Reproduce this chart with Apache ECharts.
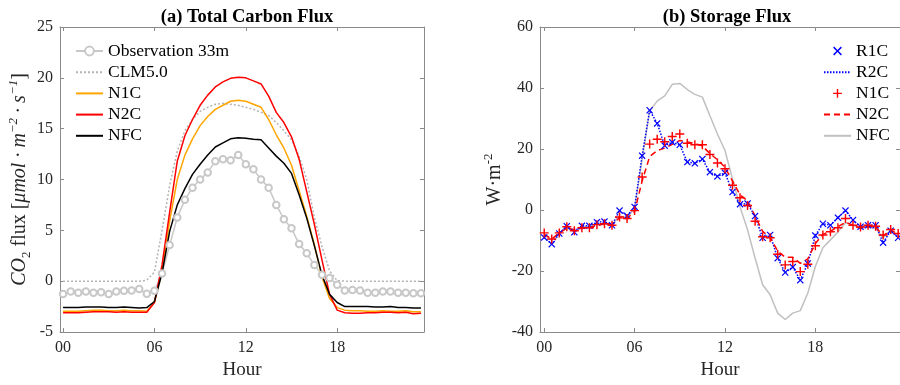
<!DOCTYPE html>
<html>
<head>
<meta charset="utf-8">
<script src="https://cdn.jsdelivr.net/npm/echarts@6/dist/echarts.min.js"></script>
<style>html,body{margin:0;padding:0;background:#fff}#c{width:900px;height:385px}</style>
</head>
<body>
<div id="c"></div>
<script>
// ---------- data ----------
var hours = [0,0.5,1,1.5,2,2.5,3,3.5,4,4.5,5,5.5,6,6.5,7,7.5,8,8.5,9,9.5,10,10.5,11,11.5,
             12,12.5,13,13.5,14,14.5,15,15.5,16,16.5,17,17.5,18,18.5,19,19.5,20,20.5,21,21.5,22,22.5,23,23.5];
var xTicks = [0, 6, 12, 18];

// (a) Total Carbon Flux
var obs33m = [-1.27,-1.01,-1.14,-1.01,-1.14,-1.08,-1.27,-1.01,-0.95,-0.91,-0.78,-1.24,
              -0.95,0.75,3.55,6.26,8.0,9.2,10.0,10.7,11.8,12.0,11.9,12.4,
              11.5,11.0,10.0,9.2,7.5,6.1,5.2,3.65,2.74,1.6,0.62,0.3,
              -0.36,-0.91,-0.88,-0.91,-1.14,-1.14,-1.01,-1.01,-1.14,-1.14,-1.2,-1.2];
var clm50 = [0,0,0,0,0,0,0,0,0,0,0,0.1,
             0.9,5.0,9.4,12.8,14.8,15.9,16.7,17.1,17.4,17.5,17.4,17.3,
             17.1,16.9,16.6,16.3,15.6,14.8,13.9,12.3,10.0,6.3,3.4,1.0,
             0.05,0,0,0,0,0,0,0,0,0,0,0];
var n1cA = [-2.95,-2.95,-2.95,-2.9,-2.85,-2.85,-2.9,-2.9,-2.85,-2.9,-2.9,-2.95,
            -2.1,1.0,5.9,10.0,12.4,14.0,15.3,16.2,16.9,17.3,17.7,17.8,
            17.7,17.4,17.1,15.9,14.4,13.1,11.4,8.9,6.4,3.6,0.4,-1.7,
            -2.6,-2.85,-2.9,-2.9,-2.95,-2.95,-2.9,-2.95,-2.95,-2.9,-3.0,-3.0];
var n2cA = [-3.1,-3.1,-3.1,-3.05,-3.0,-3.0,-3.0,-3.05,-3.0,-3.05,-3.05,-3.05,
            -2.1,1.6,6.8,11.8,14.3,15.9,17.3,18.3,19.1,19.6,19.95,20.05,
            20.0,19.7,19.4,18.2,16.6,15.6,14.2,12.0,8.8,5.6,2.1,-1.3,
            -2.85,-3.1,-3.15,-3.15,-3.1,-3.1,-3.05,-3.05,-3.1,-3.05,-3.2,-3.15];
var nfcA = [-2.6,-2.6,-2.6,-2.55,-2.55,-2.55,-2.6,-2.6,-2.55,-2.6,-2.65,-2.6,
            -2.0,0.8,4.9,7.5,9.1,10.5,11.5,12.4,13.2,13.6,14.0,14.1,
            14.05,13.95,13.9,13.1,12.3,11.6,10.6,8.5,6.2,3.5,0.6,-1.3,
            -2.1,-2.5,-2.5,-2.5,-2.5,-2.55,-2.55,-2.5,-2.6,-2.6,-2.65,-2.65];

// (b) Storage Flux
var r1cB = [-9.0,-11.2,-7.7,-5.3,-7.3,-5.2,-5.2,-4.0,-3.8,-5.0,-0.2,-1.9,
            1.0,17.8,32.7,28.4,21.1,22.2,21.4,15.7,15.3,16.7,12.4,11.0,
            12.2,5.9,1.9,2.1,-2.0,-9.1,-8.2,-15.8,-20.5,-18.7,-23.0,-17.5,
            -8.4,-4.5,-5.0,-2.5,-0.2,-3.3,-5.5,-5.0,-5.0,-10.7,-6.8,-9.1];
var r2cB = [-9.0,-11.2,-7.7,-5.3,-7.3,-5.2,-5.2,-4.0,-3.8,-5.0,-0.2,-1.9,
            1.0,17.8,32.7,28.4,21.1,22.2,21.4,15.7,15.3,16.7,12.4,11.0,
            12.2,5.9,1.9,2.1,-2.0,-9.1,-8.2,-15.8,-20.5,-18.7,-23.0,-17.5,
            -8.4,-4.5,-5.0,-2.5,-0.2,-3.3,-5.5,-5.0,-5.0,-10.7,-6.8,-9.1];
var n1cB = [-7.5,-9.5,-7.5,-5.5,-6.8,-5.8,-5.8,-4.8,-4.5,-5.0,-2.3,-2.8,
            -0.2,10.8,21.6,23.2,22.4,24.1,24.9,21.9,21.4,21.4,18.2,15.4,
            13.5,8.1,4.0,1.5,-3.7,-8.8,-9.1,-14.5,-18.0,-16.9,-20.2,-17.8,
            -11.7,-8.2,-7.1,-5.8,-2.8,-5.0,-5.6,-5.0,-5.3,-8.2,-6.4,-7.7];
var n2cB = [-8.0,-9.5,-7.5,-6.0,-6.5,-6.0,-5.8,-5.0,-4.6,-4.8,-2.5,-2.8,
            -0.5,9.5,17.5,19.5,20.3,21.5,22.8,22.3,21.8,21.0,18.5,16.5,
            14.0,9.5,5.0,3.0,-2.0,-7.0,-9.0,-13.5,-15.5,-15.5,-17.5,-16.0,
            -11.0,-8.0,-7.0,-5.5,-4.0,-5.0,-6.0,-5.5,-5.5,-8.5,-6.5,-8.0];
var nfcB = [-8.0,-10.0,-7.5,-6.0,-6.5,-5.5,-5.5,-4.5,-4.5,-4.8,-2.0,-2.5,
            0.5,16.5,32.5,35.7,37.4,41.2,41.5,39.5,37.9,37.0,30.9,24.9,
            19.5,10.2,1.0,-6.5,-15.8,-24.5,-27.8,-33.8,-35.9,-33.8,-33.0,-27.2,
            -18.5,-12.4,-9.8,-7.2,-4.2,-5.0,-6.1,-5.5,-6.0,-9.1,-6.6,-8.4];

// ---------- chart ----------
function pairs(v){ return hours.map(function(h,i){ return [h, v[i]]; }); }
var FF = 'Liberation Serif';
var AX = '#8a8a8a';
var TXT = '#262626';
var XSYM = 'path://M0,1.2L1.2,0L5,3.8L8.8,0L10,1.2L6.2,5L10,8.8L8.8,10L5,6.2L1.2,10L0,8.8L3.8,5Z';
var PSYM = 'path://M4.2,0H5.8V4.2H10V5.8H5.8V10H4.2V5.8H0V4.2H4.2Z';

function xAx(grid, min, max, bottom){
  return {
    gridIndex: grid, type: 'value', min: min, max: max,
    position: bottom ? 'bottom' : 'top',
    axisLine: {show: true, onZero: false, lineStyle: {color: AX, width: 1}},
    axisTick: {show: true, inside: true, length: 4, customValues: xTicks, lineStyle: {color: AX}},
    axisLabel: bottom ? {show: true, customValues: xTicks, margin: 8, fontFamily: FF, fontSize: 16, color: TXT,
                         formatter: function(v){ return (v < 10 ? '0' : '') + v; }} : {show: false},
    splitLine: {show: false},
    name: bottom ? 'Hour' : '', nameLocation: 'middle', nameGap: 29,
    nameTextStyle: {fontFamily: FF, fontSize: 19, color: TXT}
  };
}
function yAx(grid, min, max, iv, left, name, gap){
  return {
    gridIndex: grid, type: 'value', min: min, max: max, interval: iv,
    position: left ? 'left' : 'right',
    axisLine: {show: true, onZero: false, lineStyle: {color: AX, width: 1}},
    axisTick: {show: true, inside: true, length: 4, lineStyle: {color: AX}},
    axisLabel: left ? {show: true, margin: 7, fontFamily: FF, fontSize: 16, color: TXT} : {show: false},
    splitLine: {show: false},
    name: left ? name : '', nameLocation: 'middle', nameGap: gap, nameRotate: 90,
    nameTextStyle: {fontFamily: FF, fontSize: 20, color: TXT, lineHeight: 26,
      rich: {
        it: {fontFamily: FF, fontSize: 20, fontStyle: 'italic', color: TXT},
        rm: {fontFamily: FF, fontSize: 20, color: TXT},
        sup: {fontFamily: FF, fontSize: 13, fontStyle: 'italic', color: TXT, verticalAlign: 'top', lineHeight: 14},
        supr: {fontFamily: FF, fontSize: 13, color: TXT, verticalAlign: 'top', lineHeight: 14},
        sub: {fontFamily: FF, fontSize: 13, color: TXT, verticalAlign: 'bottom', lineHeight: 14}
      }}
  };
}
function lineOnly(n){ return {name: n, itemStyle: {opacity: 0}}; }

var chart = echarts.init(document.getElementById('c'), null, {renderer: 'canvas'});
chart.setOption({
  animation: false,
  backgroundColor: '#fff',
  title: [
    {text: '(a) Total Carbon Flux', left: 242, top: 3, textAlign: 'center',
     textStyle: {fontFamily: FF, fontSize: 18.5, fontWeight: 'bold', color: '#000'}},
    {text: '(b) Storage Flux', left: 722, top: 3, textAlign: 'center',
     textStyle: {fontFamily: FF, fontSize: 18.5, fontWeight: 'bold', color: '#000'}}
  ],
  grid: [
    {left: 60, top: 27, width: 364, height: 307, containLabel: false},
    {left: 540, top: 27, width: 364, height: 307, containLabel: false}
  ],
  xAxis: [xAx(0, -0.2, 23.7, true), xAx(0, -0.2, 23.7, false),
          xAx(1, -0.28, 23.62, true), xAx(1, -0.28, 23.62, false)],
  yAxis: [yAx(0, -5, 25, 5, true, '{it|CO}{sub|2} {rm|flux [}{it|μmol · m}{sup|−2}{it| · s}{sup|−1}{rm|]}', 27),
          yAx(0, -5, 25, 5, false),
          yAx(1, -40, 60, 20, true, '{rm|W·m}{supr|-2}', 31),
          yAx(1, -40, 60, 20, false)],
  legend: [
    {orient: 'vertical', left: 70, top: 37, itemWidth: 27, itemHeight: 11, itemGap: 3.2,
     data: ['Observation 33m', lineOnly('CLM5.0'), lineOnly('N1C'), lineOnly('N2C'), lineOnly('NFC')],
     textStyle: {fontFamily: FF, fontSize: 17.5, color: '#000', lineHeight: 17}},
    {orient: 'vertical', left: 818, top: 37, itemWidth: 27, itemHeight: 11, itemGap: 3.2,
     data: ['b:R1C', lineOnly('b:R2C'), 'b:N1C', lineOnly('b:N2C'), lineOnly('b:NFC')],
     formatter: function(n){ return n.replace('b:', ''); },
     textStyle: {fontFamily: FF, fontSize: 17.5, color: '#000', lineHeight: 17}}
  ],
  series: [
    {name: 'Observation 33m', type: 'line', xAxisIndex: 0, yAxisIndex: 0, data: pairs(obs33m),
     symbol: 'emptyCircle', symbolSize: 6.5, showSymbol: true,
     lineStyle: {color: '#c8c8c8', width: 1.5},
     itemStyle: {color: '#c8c8c8', borderColor: '#c8c8c8', borderWidth: 1.3}},
    {name: 'CLM5.0', type: 'line', xAxisIndex: 0, yAxisIndex: 0, data: pairs(clm50), symbol: 'none',
     lineStyle: {color: '#b4b4b4', width: 1.5, type: [2, 2]}, itemStyle: {color: '#b4b4b4'}},
    {name: 'N1C', type: 'line', xAxisIndex: 0, yAxisIndex: 0, data: pairs(n1cA), symbol: 'none',
     lineStyle: {color: '#FFA500', width: 1.5}, itemStyle: {color: '#FFA500'}},
    {name: 'N2C', type: 'line', xAxisIndex: 0, yAxisIndex: 0, data: pairs(n2cA), symbol: 'none',
     lineStyle: {color: '#FF0000', width: 1.5}, itemStyle: {color: '#FF0000'}},
    {name: 'NFC', type: 'line', xAxisIndex: 0, yAxisIndex: 0, data: pairs(nfcA), symbol: 'none',
     lineStyle: {color: '#000000', width: 1.5}, itemStyle: {color: '#000000'}},

    {name: 'b:R1C', type: 'line', xAxisIndex: 2, yAxisIndex: 2, data: pairs(r1cB),
     symbol: XSYM, symbolSize: 7, showSymbol: true,
     lineStyle: {width: 0, opacity: 0}, itemStyle: {color: '#0000FF'}, z: 3},
    {name: 'b:R2C', type: 'line', xAxisIndex: 2, yAxisIndex: 2, data: pairs(r2cB), symbol: 'none',
     lineStyle: {color: '#0000FF', width: 1.5, type: [1.5, 1.5]}, itemStyle: {color: '#0000FF'}, z: 3},
    {name: 'b:N1C', type: 'line', xAxisIndex: 2, yAxisIndex: 2, data: pairs(n1cB),
     symbol: PSYM, symbolSize: 9, showSymbol: true,
     lineStyle: {width: 0, opacity: 0}, itemStyle: {color: '#FF0000'}, z: 3},
    {name: 'b:N2C', type: 'line', xAxisIndex: 2, yAxisIndex: 2, data: pairs(n2cB), symbol: 'none',
     lineStyle: {color: '#FF0000', width: 1.5, type: [6, 4]}, itemStyle: {color: '#FF0000'}, z: 3},
    {name: 'b:NFC', type: 'line', xAxisIndex: 2, yAxisIndex: 2, data: pairs(nfcB), symbol: 'none',
     lineStyle: {color: '#c0c0c0', width: 1.5}, itemStyle: {color: '#c0c0c0'}, z: 2}
  ]
});
</script>
</body>
</html>
